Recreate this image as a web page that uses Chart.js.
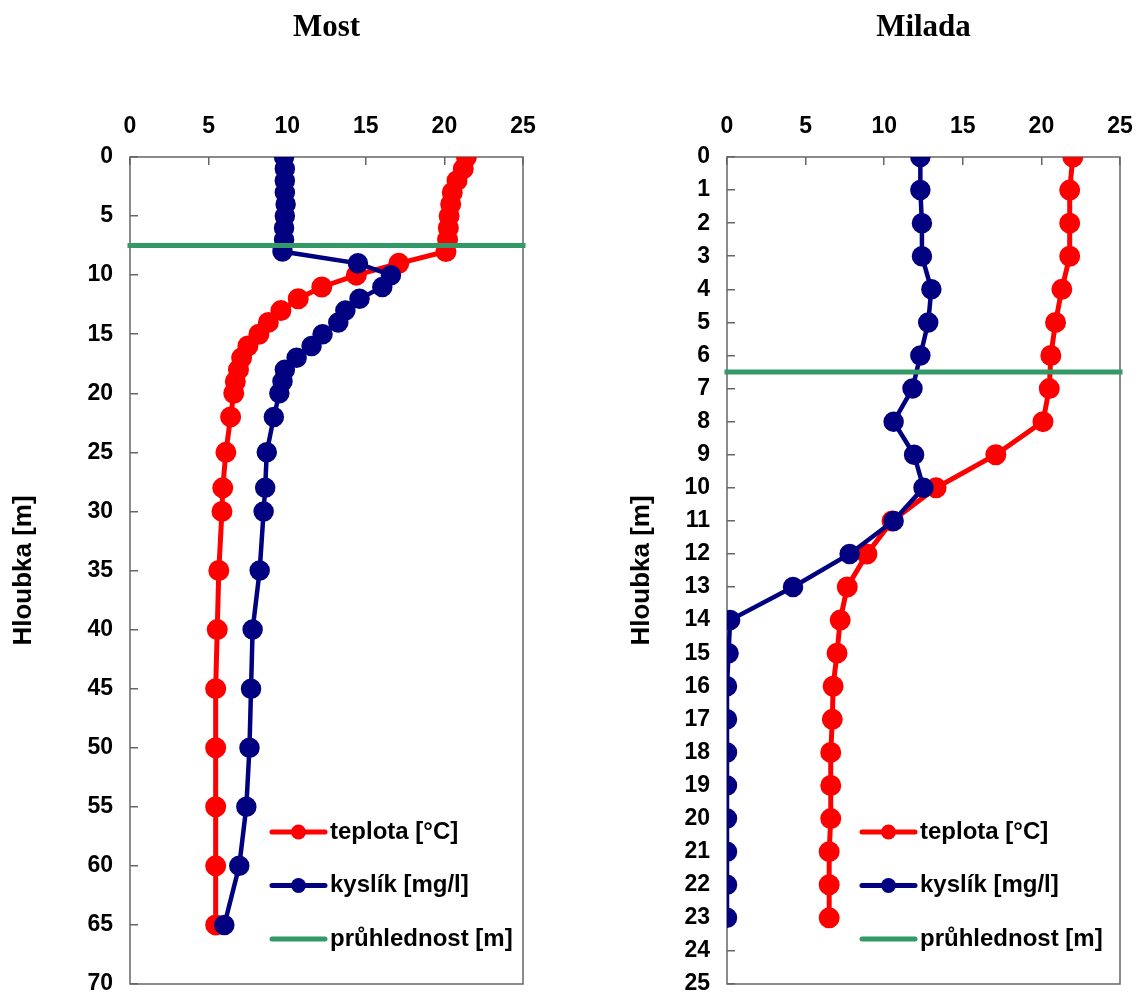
<!DOCTYPE html>
<html>
<head>
<meta charset="utf-8">
<title>Most a Milada - profily</title>
<script src="https://cdn.jsdelivr.net/npm/chart.js@4.4.1/dist/chart.umd.min.js"></script>
<style>
  body { margin: 0; background: #fff; }
  .graf { position: absolute; top: 0; }
</style>
</head>
<body>
<canvas id="most" class="graf" width="569" height="997" style="left:0px"></canvas>
<canvas id="milada" class="graf" width="569" height="997" style="left:569px"></canvas>
<script>
// 📋 DATA - Most
const mostHloubka = [0, 1, 2, 3, 4, 5, 6, 7, 8, 9, 10, 11, 12, 13, 14, 15, 16, 17, 18, 19, 20, 22, 25, 28, 30, 35, 40, 45, 50, 55, 60, 65];
const mostTeplota = [21.4, 21.2, 20.8, 20.5, 20.4, 20.3, 20.25, 20.2, 20.1, 17.1, 14.4, 12.2, 10.7, 9.6, 8.8, 8.2, 7.5, 7.1, 6.9, 6.7, 6.6, 6.4, 6.1, 5.9, 5.85, 5.65, 5.55, 5.45, 5.45, 5.45, 5.45, 5.45];
const mostKyslik = [9.8, 9.85, 9.85, 9.85, 9.9, 9.85, 9.8, 9.8, 9.7, 14.5, 16.6, 16.05, 14.6, 13.7, 13.25, 12.25, 11.55, 10.6, 9.85, 9.7, 9.5, 9.15, 8.7, 8.6, 8.5, 8.25, 7.8, 7.7, 7.6, 7.4, 6.95, 6.0];
const mostPruhlednost = 7.5;
const mostOsaY = [0, 5, 10, 15, 20, 25, 30, 35, 40, 45, 50, 55, 60, 65, 70];

// 📋 DATA - Milada
const miladaHloubka = [0, 1, 2, 3, 4, 5, 6, 7, 8, 9, 10, 11, 12, 13, 14, 15, 16, 17, 18, 19, 20, 21, 22, 23];
const miladaTeplota = [22.0, 21.8, 21.8, 21.8, 21.3, 20.9, 20.6, 20.5, 20.1, 17.1, 13.3, 10.5, 8.9, 7.65, 7.2, 7.0, 6.75, 6.7, 6.6, 6.6, 6.6, 6.5, 6.5, 6.5];
const miladaKyslik = [12.3, 12.3, 12.4, 12.4, 13.0, 12.8, 12.3, 11.8, 10.6, 11.9, 12.5, 10.6, 7.8, 4.2, 0.2, 0.1, 0, 0, 0, 0, 0, 0, 0, 0];
const miladaPruhlednost = 6.5;
const miladaOsaY = [0, 1, 2, 3, 4, 5, 6, 7, 8, 9, 10, 11, 12, 13, 14, 15, 16, 17, 18, 19, 20, 21, 22, 23, 24, 25];

// 📏 spolecna osa X
const osaX = [0, 5, 10, 15, 20, 25];

const popisky = ["teplota [°C]", "kyslík [mg/l]", "průhlednost [m]"];
const osaYNazev = "Hloubka [m]";

const pismo = '"Liberation Sans", Arial, sans-serif';


// 🔲 ramecek kolem plochy grafu
const ramecek = {
  id: 'ramecek',
  beforeDatasetsDraw(chart) {
    const a = chart.chartArea;
    const ctx = chart.ctx;
    ctx.save();
    ctx.strokeStyle = '#666';
    ctx.lineWidth = 1.5;
    ctx.strokeRect(a.left, a.top, a.right - a.left, a.bottom - a.top);
    ctx.restore();
  }
};


// 🏷️ legenda uvnitr grafu
const legendaUvnitr = {
  id: 'legendaUvnitr',
  afterDraw(chart, args, opts) {
    const ctx = chart.ctx;
    const a = chart.chartArea;
    const x0 = a.left + opts.odsazeni;

    chart.data.datasets.forEach((ds, i) => {
      const y = a.bottom - 152 + i * 53.5;
      ctx.save();
      ctx.strokeStyle = ds.borderColor;
      ctx.lineWidth = 5;
      ctx.lineCap = 'round';
      ctx.beginPath();
      ctx.moveTo(x0, y);
      ctx.lineTo(x0 + 53, y);
      ctx.stroke();

      if (ds.pointRadius > 0) {
        ctx.fillStyle = ds.pointBackgroundColor;
        ctx.beginPath();
        ctx.arc(x0 + 26.5, y, ds.pointRadius - 0.5, 0, Math.PI * 2);
        ctx.fill();
      }

      ctx.fillStyle = '#000';
      ctx.font = 'bold 24px ' + pismo;
      ctx.textBaseline = 'middle';
      ctx.fillText(ds.label, x0 + 58, y);
      ctx.restore();
    });
  }
};


// 📈 GRAF PROFILU
function vytvorGraf(id, nazev, hloubka, teplota, kyslik, pruhlednost, osaY, nast) {

  const ctx = document.getElementById(id).getContext("2d");

  const bodyTeplota = hloubka.map((h, i) => ({ x: teplota[i], y: h }));
  const bodyKyslik = hloubka.map((h, i) => ({ x: kyslik[i], y: h }));
  const bodyPruhlednost = [
    { x: osaX[0], y: pruhlednost },
    { x: osaX[osaX.length - 1], y: pruhlednost }
  ];

  new Chart(ctx, {
    type: 'scatter',
    data: {
      datasets: [
        {
          label: popisky[0],
          data: bodyTeplota,
          showLine: true,
          borderColor: '#ff0000',
          backgroundColor: '#ff0000',
          pointBackgroundColor: '#ff0000',
          pointBorderColor: '#ff0000',
          borderWidth: 5,
          pointRadius: 8,
          order: 3
        },
        {
          label: popisky[1],
          data: bodyKyslik,
          showLine: true,
          borderColor: '#000080',
          backgroundColor: '#000080',
          pointBackgroundColor: '#000080',
          pointBorderColor: '#000080',
          borderWidth: 4.5,
          pointRadius: 8,
          order: 2
        },
        {
          label: popisky[2],
          data: bodyPruhlednost,
          showLine: true,
          borderColor: '#339966',
          backgroundColor: '#339966',
          borderWidth: 5,
          borderCapStyle: 'square',
          pointRadius: 0,
          clip: false,
          order: 1
        }
      ]
    },
    options: {
      responsive: false,
      animation: false,
      events: [],
      layout: {
        padding: { left: nast.vlevo, right: nast.vpravo, top: 0, bottom: 12 }
      },
      scales: {
        x: {
          type: 'linear',
          position: 'top',
          min: osaX[0],
          max: osaX[osaX.length - 1],
          afterBuildTicks: s => { s.ticks = osaX.map(v => ({ value: v })); },
          afterFit: s => {
            s.height = 110.8;
            s.paddingLeft = 0;
            s.paddingRight = 0;
          },
          border: { display: false },
          grid: { drawOnChartArea: false, drawTicks: true, tickLength: -8, color: '#666', lineWidth: 1.5 },
          ticks: { padding: 25, color: '#000', font: { family: pismo, size: 23, weight: 'bold' } }
        },
        y: {
          type: 'linear',
          reverse: true,
          min: osaY[0],
          max: osaY[osaY.length - 1],
          afterBuildTicks: s => { s.ticks = osaY.map(v => ({ value: v })); },
          afterFit: s => {
            s.width = nast.sirkaY;
            s.paddingTop = 0;
            s.paddingBottom = 0;
          },
          border: { display: false },
          grid: { drawOnChartArea: false, drawTicks: true, tickLength: -8, color: '#666', lineWidth: 1.5 },
          ticks: { padding: 25, color: '#000', font: { family: pismo, size: 23, weight: 'bold' } },
          title: {
            display: true,
            text: osaYNazev,
            color: '#000',
            padding: { top: 8, bottom: 0 },
            font: { family: pismo, size: 26, weight: 'bold' }
          }
        }
      },
      plugins: {
        legend: { display: false },
        tooltip: { enabled: false },
        title: {
          display: true,
          text: nazev,
          fullSize: false,
          color: '#000',
          padding: { top: 9, bottom: 0 },
          font: { family: '"Liberation Serif", "Times New Roman", serif', size: 31, weight: 'bold' }
        },
        legendaUvnitr: { odsazeni: nast.legenda }
      }
    },
    plugins: [ramecek, legendaUvnitr]
  });
}


vytvorGraf("most", "Most", mostHloubka, mostTeplota, mostKyslik, mostPruhlednost, mostOsaY,
  { vlevo: 0, vpravo: 46, sirkaY: 130, legenda: 142 });

vytvorGraf("milada", "Milada", miladaHloubka, miladaTeplota, miladaKyslik, miladaPruhlednost, miladaOsaY,
  { vlevo: 49, vpravo: 18, sirkaY: 109, legenda: 135 });
</script>
</body>
</html>
